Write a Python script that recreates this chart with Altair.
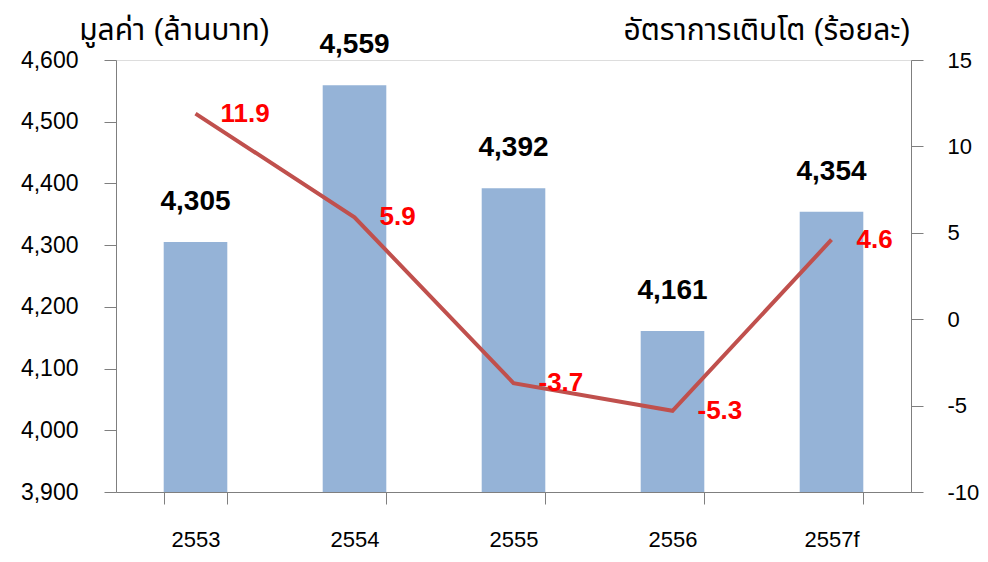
import altair as alt
import pandas as pd

years = ["2553", "2554", "2555", "2556", "2557f"]
values = [4305, 4559, 4392, 4161, 4354]
growth = [11.9, 5.9, -3.7, -5.3, 4.6]

df = pd.DataFrame({"year": years, "value": values, "growth": growth})
df["value_label"] = [f"{v:,}" for v in values]
df["growth_label"] = [f"{g:.1f}" for g in growth]

FONT = "Liberation Sans, Arial, Noto Sans Thai, sans-serif"
AXIS_COL = "#7f7f7f"

x = alt.X(
    "year:N",
    sort=years,
    scale=alt.Scale(paddingInner=0.6, paddingOuter=0.3),
    axis=alt.Axis(
        title=None, labelAngle=0, labelFontSize=22, labelColor="black", labelFont=FONT,
        tickBand="extent", tickSize=12, tickColor=AXIS_COL, domainColor=AXIS_COL,
        labelPadding=25, grid=False,
    ),
)

y_left = alt.Y(
    "value:Q",
    scale=alt.Scale(domain=[3900, 4600], zero=False, nice=False),
    axis=alt.Axis(
        title="มูลค่า (ล้านบาท)", titleAngle=0, titleX=58, titleY=-30,
        titleAlign="center", titleBaseline="middle", titleFontSize=30,
        titleFontWeight="normal", titleFont=FONT, titleColor="black",
        values=list(range(3900, 4601, 100)),
        labelExpr="format(datum.value, ',')",
        labelFontSize=23, labelColor="black", labelFont=FONT, labelPadding=26,
        tickSize=12, tickColor=AXIS_COL, domainColor=AXIS_COL, grid=False,
    ),
)

bars = alt.Chart(df).mark_bar(color="#95B3D7").encode(
    x=x, y=y_left, y2=alt.datum(3900)
)
bar_text = alt.Chart(df).mark_text(
    font=FONT, fontSize=28, fontWeight="bold", color="black", dy=-40, baseline="middle"
).encode(x=x, y=alt.Y("value:Q"), text="value_label:N")

y_right = alt.Y(
    "growth:Q",
    scale=alt.Scale(domain=[-10, 15], nice=False, zero=False),
    axis=alt.Axis(
        orient="right",
        title="อัตราการเติบโต (ร้อยละ)", titleAngle=0, titleX=-1, titleY=-30,
        titleAlign="right", titleBaseline="middle", titleFontSize=30,
        titleFontWeight="normal", titleFont=FONT, titleColor="black",
        values=list(range(-10, 16, 5)),
        labelExpr="'' + datum.value",
        labelFontSize=22, labelColor="black", labelFont=FONT, labelPadding=24,
        tickSize=12, tickColor=AXIS_COL, domainColor=AXIS_COL, grid=False,
    ),
)

line = alt.Chart(df).mark_line(color="#C0504D", strokeWidth=4).encode(x=x, y=y_right)
line_text = alt.Chart(df).mark_text(
    font=FONT, fontSize=26, fontWeight="bold", color="#FF0000", dx=25, align="left",
    baseline="middle",
).encode(x=x, y=alt.Y("growth:Q"), text="growth_label:N")

left = alt.layer(bars, bar_text)
right = alt.layer(line, line_text)

chart = alt.layer(left, right).resolve_scale(y="independent").properties(
    width=795, height=432,
    autosize=alt.AutoSizeParams(type="none"),
    padding={"left": 108, "top": 52, "right": 69, "bottom": 62},
).configure_view(stroke=None).configure(background="white")

chart.save("out.html", embed_options={"renderer": "svg", "actions": False})
